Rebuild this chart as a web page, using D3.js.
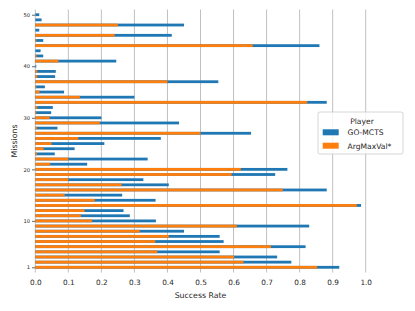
<!DOCTYPE html>
<html><head><meta charset="utf-8">
<script src="https://cdn.jsdelivr.net/npm/d3@7"></script>
<style>body{margin:0;background:#fff}svg{display:block;font-family:"DejaVu Sans",sans-serif}</style>
</head><body><svg id="c" width="415" height="311"></svg>
<script>
const missions = d3.range(1, 51);
const goMCTS = [0.92,0.775,0.732,0.558,0.818,0.57,0.558,0.45,0.829,0.365,
  0.286,0.267,0.986,0.364,0.263,0.882,0.404,0.327,0.726,0.763,
  0.157,0.34,0.059,0.119,0.209,0.38,0.653,0.067,0.435,0.20,
  0.048,0.053,0.882,0.30,0.087,0.029,0.554,0.06,0.062,0.003,
  0.245,0.024,0.016,0.86,0.024,0.413,0.012,0.45,0.019,0.012];
const argMaxVal = [0.853,0.63,0.602,0.369,0.713,0.363,0.404,0.316,0.61,0.172,
  0.138,0.149,0.973,0.18,0.089,0.749,0.261,0.10,0.594,0.622,
  0.045,0.10,0.005,0.025,0.049,0.13,0.50,0.005,0.195,0.043,
  0.003,0.006,0.823,0.135,0.013,0.003,0.40,0.006,0.006,0,
  0.07,0.004,0,0.658,0.003,0.24,0,0.25,0,0];
const xTicks = [0,0.1,0.2,0.3,0.4,0.5,0.6,0.7,0.8,0.9,1.0];
const yTicks = [1,10,20,30,40,50];
const seriesNames = ["GO-MCTS","ArgMaxVal*"];
const colors = ["#1f77b4","#ff7f0e"];

const svg = d3.select("#c");
const x = d3.scaleLinear().domain([0,1]).range([35.3,365.7]);
const y = d3.scaleLinear().domain([0,51]).range([272.45,9.55]);
const bh = 2.8;

// grid
svg.append("g").selectAll("line").data(xTicks).join("line")
  .attr("x1",d=>x(d)).attr("x2",d=>x(d)).attr("y1",9.5).attr("y2",272.5)
  .attr("stroke","#b0b0b0").attr("stroke-width",0.8);

const series = [goMCTS, argMaxVal];
series.forEach((vals,i)=>{
  svg.append("g").selectAll("rect").data(missions).join("rect")
    .attr("x",x(0)).attr("y",(m)=>y(m)-bh/2)
    .attr("width",(m,j)=>x(vals[j])-x(0)).attr("height",bh)
    .attr("fill",colors[i]);
});

// y axis
const yAxis = d3.axisLeft(y).tickValues(yTicks).tickSize(3).tickPadding(2).tickFormat(d3.format("d"));
const gy = svg.append("g").attr("transform",`translate(${x(0)-0.3},0)`).call(yAxis);
gy.select(".domain").remove();
gy.selectAll("text").attr("font-size",5.2).attr("fill","#262626").attr("font-family","DejaVu Sans");
gy.selectAll("line").attr("stroke","#262626").attr("stroke-width",0.7);

// x axis labels
const xAxis = d3.axisBottom(x).tickValues(xTicks).tickSize(0).tickPadding(7).tickFormat(d3.format(".1f"));
const gx = svg.append("g").attr("transform",`translate(0,272.5)`).call(xAxis);
gx.select(".domain").remove();
gx.selectAll("text").attr("font-size",7.3).attr("fill","#262626").attr("font-family","DejaVu Sans");

svg.append("text").attr("x",(x(0)+x(1))/2).attr("y",298).attr("text-anchor","middle")
  .attr("font-size",7.8).attr("fill","#262626").text("Success Rate");
svg.append("text").attr("transform","translate(16.5,141) rotate(-90)").attr("text-anchor","middle")
  .attr("font-size",7.8).attr("fill","#262626").text("Missions");

// legend
const lg = svg.append("g");
lg.append("rect").attr("x",318).attr("y",112).attr("width",85).attr("height",42).attr("rx",2)
  .attr("fill","#fff").attr("fill-opacity",0.8).attr("stroke","#cccccc").attr("stroke-width",0.8);
lg.append("text").attr("x",362).attr("y",123.5).attr("text-anchor","middle").attr("font-size",7.6)
  .attr("fill","#262626").text("Player");
seriesNames.forEach((n,i)=>{
  const yy = 129.3 + i*13.4;
  lg.append("rect").attr("x",322.7).attr("y",yy).attr("width",16).attr("height",6).attr("fill",colors[i]);
  lg.append("text").attr("x",347.5).attr("y",yy+6).attr("font-size",7.6).attr("fill","#262626").text(n);
});
</script></body></html>
